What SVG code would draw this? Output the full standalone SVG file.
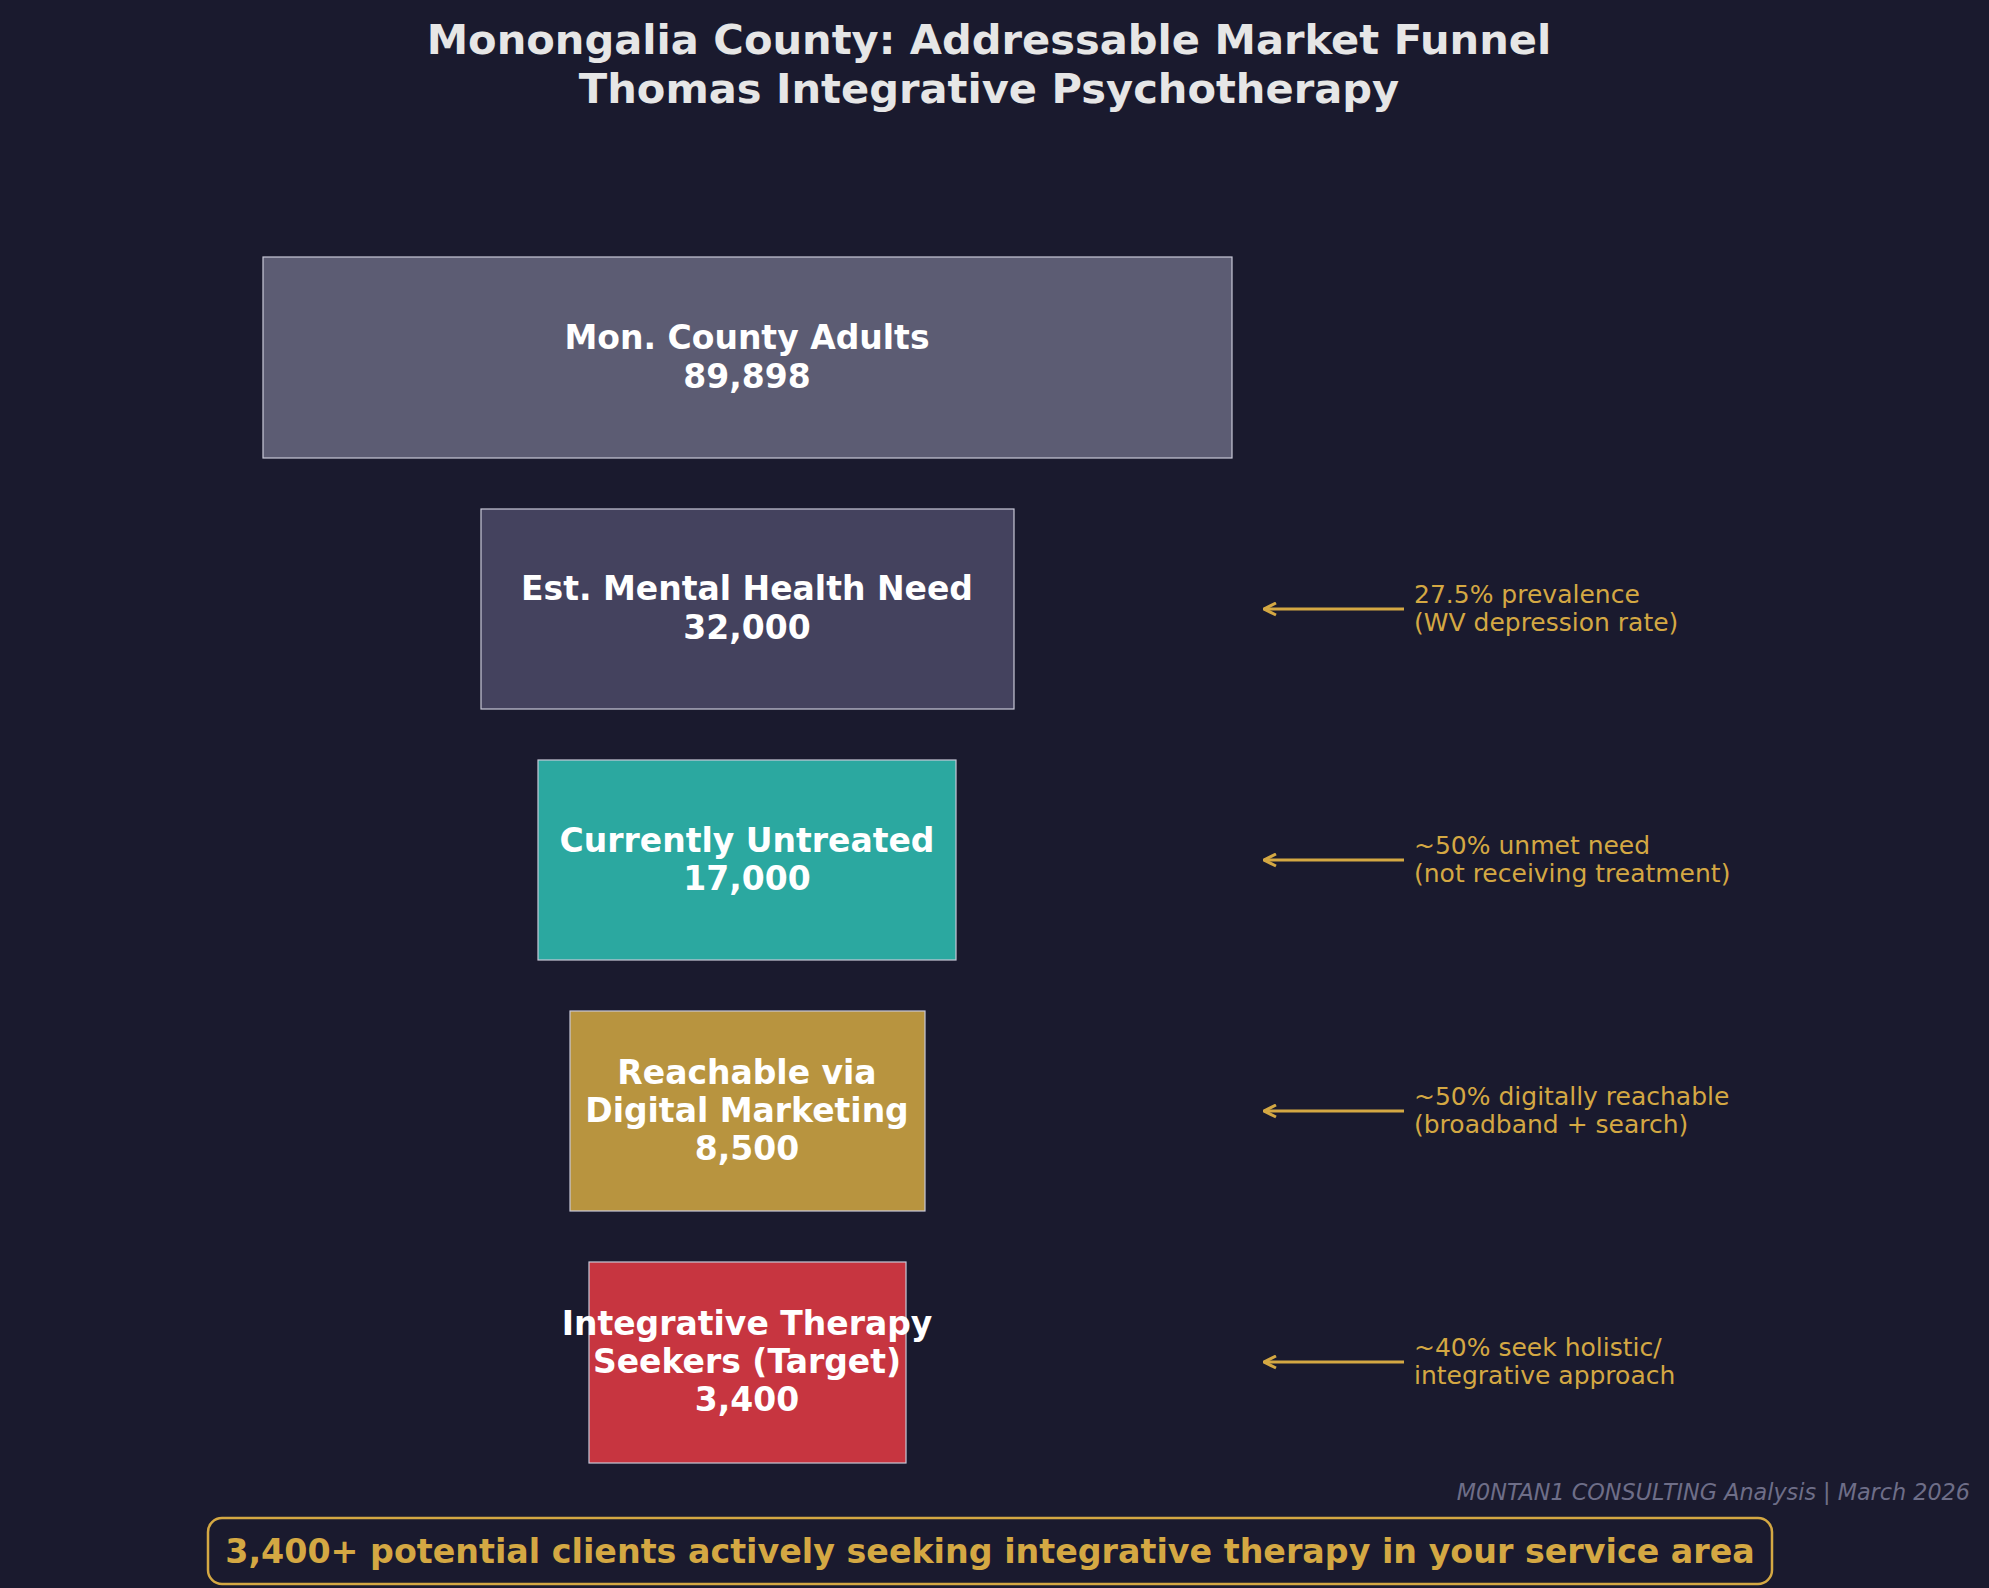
<svg xmlns="http://www.w3.org/2000/svg" width="1989" height="1588" viewBox="0 0 1989 1588">
<defs>
<style>
.t{font-family:"DejaVu Sans",sans-serif;}
.box{stroke:#c8c8d8;stroke-width:1.2;}
.bt{font-family:"DejaVu Sans",sans-serif;font-weight:bold;font-size:33px;fill:#ffffff;text-anchor:middle;dominant-baseline:central;}
.an{font-family:"DejaVu Sans",sans-serif;font-size:25px;fill:#d4a843;dominant-baseline:central;}
.ar{stroke:#d4a843;stroke-width:3;fill:none;marker-end:url(#ah);}
</style>
<marker id="ah" viewBox="0 0 10 10" refX="9" refY="5" markerWidth="5" markerHeight="5" orient="auto"><path d="M1,1 L9,5 L1,9" fill="none" stroke="#d4a843" stroke-width="2"/></marker>
</defs>
<rect width="1989" height="1588" fill="#1a1a2e"/>
<text class="t" x="989" y="39" font-size="41.6" font-weight="bold" fill="#e6e6e6" text-anchor="middle" dominant-baseline="central">Monongalia County: Addressable Market Funnel</text>
<text class="t" x="989" y="88" font-size="41.6" font-weight="bold" fill="#e6e6e6" text-anchor="middle" dominant-baseline="central">Thomas Integrative Psychotherapy</text>
<g id="n1"><rect class="box" x="263" y="257" width="969" height="201" fill="#5c5c73"/><text class="bt" x="747" y="337">Mon. County Adults</text><text class="bt" x="747" y="376">89,898</text></g>
<g id="n2"><rect class="box" x="481" y="509" width="533" height="200" fill="#44425e"/><text class="bt" x="747" y="588">Est. Mental Health Need</text><text class="bt" x="747" y="627">32,000</text></g>
<g id="n3"><rect class="box" x="538" y="760" width="418" height="200" fill="#2ba8a0"/><text class="bt" x="747" y="840">Currently Untreated</text><text class="bt" x="747" y="878">17,000</text></g>
<g id="n4"><rect class="box" x="570" y="1011" width="355" height="200" fill="#b8943f"/><text class="bt" x="747" y="1072">Reachable via</text><text class="bt" x="747" y="1110">Digital Marketing</text><text class="bt" x="747" y="1148">8,500</text></g>
<g id="n5"><rect class="box" x="589" y="1262" width="317" height="201" fill="#c73540"/><text class="bt" x="747" y="1323">Integrative Therapy</text><text class="bt" x="747" y="1361">Seekers (Target)</text><text class="bt" x="747" y="1399">3,400</text></g>
<g id="connectors">
<line class="ar" x1="1404" y1="609" x2="1264" y2="609"/>
<line class="ar" x1="1404" y1="860" x2="1264" y2="860"/>
<line class="ar" x1="1404" y1="1111" x2="1264" y2="1111"/>
<line class="ar" x1="1404" y1="1362" x2="1264" y2="1362"/>
</g>
<g id="annotations">
<text class="an" x="1414" y="594">27.5% prevalence</text><text class="an" x="1414" y="622">(WV depression rate)</text>
<text class="an" x="1414" y="845">~50% unmet need</text><text class="an" x="1414" y="873">(not receiving treatment)</text>
<text class="an" x="1414" y="1096">~50% digitally reachable</text><text class="an" x="1414" y="1124">(broadband + search)</text>
<text class="an" x="1414" y="1347">~40% seek holistic/</text><text class="an" x="1414" y="1375">integrative approach</text>
</g>
<text class="t" x="1970" y="1492" font-size="22.3" font-style="italic" fill="#6e6e88" text-anchor="end" dominant-baseline="central">M0NTAN1 CONSULTING Analysis | March 2026</text>
<g id="summary"><rect x="208" y="1518" width="1564" height="66" rx="14" fill="#1a1a2e" stroke="#d4a843" stroke-width="2.5"/>
<text class="t" x="990" y="1551" font-size="33.3" font-weight="bold" fill="#d4a843" text-anchor="middle" dominant-baseline="central">3,400+ potential clients actively seeking integrative therapy in your service area</text></g>
</svg>
